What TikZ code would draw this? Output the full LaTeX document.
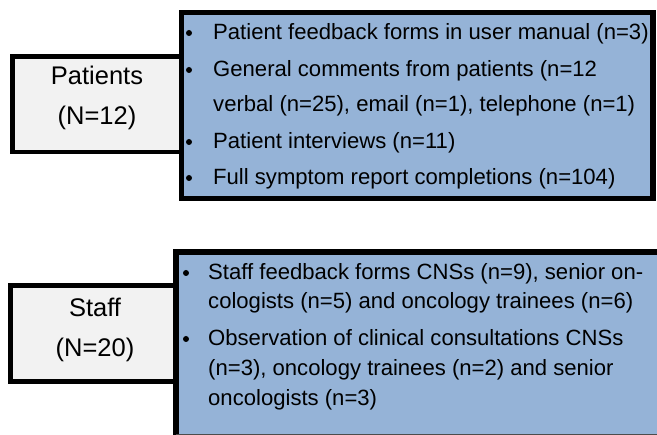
\documentclass[tikz,border=0pt]{standalone}
\usepackage{fontspec}
\setmainfont{Liberation Sans}
\definecolor{boxblue}{HTML}{95B3D7}
\definecolor{boxgray}{HTML}{F2F2F2}
\tikzset{
  graybox/.style={draw=black, fill=boxgray, line width=4.5pt},
  bluebox/.style={draw=black, fill=boxblue, line width=5.5pt},
  txt/.style={anchor=base west, inner sep=0pt, font=\fontsize{22.1}{26}\selectfont, text=black},
  ctxt/.style={anchor=base, inner sep=0pt, font=\fontsize{25.5}{30}\selectfont, text=black},
  bul/.style={circle, fill=black, inner sep=0pt, minimum size=6pt}
}
\begin{document}
\begin{tikzpicture}[x=1pt,y={(0,-1pt)}]
\useasboundingbox (0,0) rectangle (657,435);
\clip (0,0) rectangle (657,435);
% Patients
\draw[graybox] (12.5,56.5) rectangle (182,152);
\draw[bluebox] (181.5,12.5) rectangle (653,198.5);
\node[ctxt] (pa) at (97,85) {Patients};
\node[ctxt] (pn) at (97,125) {(N=12)};
\node[bul] (b1) at (189,33) {};
\node[txt] (t1) at (213,40) {Patient feedback forms in user manual (n=3)};
\node[bul] (b2) at (189,70) {};
\node[txt] (t2) at (213,77) {General comments from patients (n=12};
\node[txt] (t3) at (213,112) {verbal (n=25), email (n=1), telephone (n=1)};
\node[bul] (b3) at (189,142) {};
\node[txt] (t4) at (213,149) {Patient interviews (n=11)};
\node[bul] (b4) at (189,178) {};
\node[txt] (t5) at (213,185) {Full symptom report completions (n=104)};
% Staff
\draw[graybox] (10.5,285.5) rectangle (176,381.5);
\fill[boxblue] (176,252) rectangle (657,434);
\draw[line width=5.5pt] (176,440) -- (176,252) -- (662,252);
\draw[line width=1pt, black!70] (176,434.5) -- (657,434.5);
\node[ctxt] (sa) at (95,317) {Staff};
\node[ctxt] (sn) at (95,357) {(N=20)};
\node[bul] (c1) at (186,273) {};
\node[txt] (s1) at (208,280) {Staff feedback forms CNSs (n=9), senior on-};
\node[txt] (s2) at (208,309) {cologists (n=5) and oncology trainees (n=6)};
\node[bul] (c2) at (186,339) {};
\node[txt] (s3) at (208,346) {Observation of clinical consultations CNSs};
\node[txt] (s4) at (208,376) {(n=3), oncology trainees (n=2) and senior};
\node[txt] (s5) at (208,406) {oncologists (n=3)};
\end{tikzpicture}
\end{document}
